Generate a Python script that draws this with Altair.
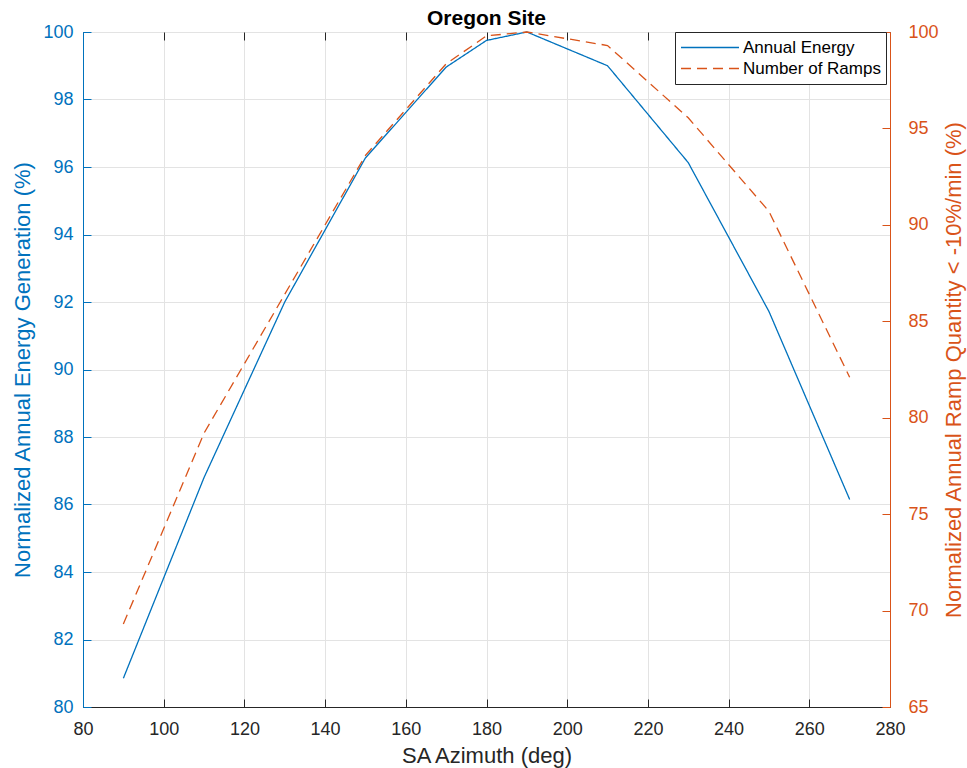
import altair as alt
import pandas as pd

# ---- data ----
azimuth = [90, 110, 130, 150, 170, 180, 190, 210, 230, 250, 270]
energy = [80.85, 86.8, 92.0, 96.27, 98.96, 99.75, 100.0, 99.0, 96.13, 91.72, 86.15]
ramps = [69.3, 79.2, 86.4, 93.6, 98.35, 99.8, 100.0, 99.3, 95.55, 90.7, 82.1]
series_names = ["Annual Energy", "Number of Ramps"]
x_ticks = [80, 100, 120, 140, 160, 180, 200, 220, 240, 260, 280]
left_ticks = [80, 82, 84, 86, 88, 90, 92, 94, 96, 98, 100]
right_ticks = [65, 70, 75, 80, 85, 90, 95, 100]

df = pd.DataFrame({
    "azimuth": azimuth + azimuth,
    "value": energy + ramps,
    "series": [series_names[0]] * len(azimuth) + [series_names[1]] * len(azimuth),
})

BLUE = "#0072BD"
ORANGE = "#D95319"
DARK = "#262626"
GRID = "#e3e3e3"
FONT = "Liberation Sans"
TICK_LEN = 8

x_scale = alt.Scale(domain=[80, 280], nice=False, zero=False)
left_scale = alt.Scale(domain=[80, 100], nice=False, zero=False)
right_scale = alt.Scale(domain=[65, 100], nice=False, zero=False)

legend = alt.Legend(
    title=None, orient="none", legendX=592, legendY=0,
    symbolType="stroke", symbolSize=3364, symbolStrokeWidth=1.3,
    labelFontSize=17, labelColor="#000000", labelFont=FONT,
    fillColor="white", strokeColor=DARK, padding=5, rowPadding=0,
    clipHeight=21, labelOffset=3,
)
color_enc = alt.Color(
    "series:N",
    scale=alt.Scale(domain=series_names, range=[BLUE, ORANGE]),
    legend=legend,
)
dash_enc = alt.StrokeDash(
    "series:N",
    scale=alt.Scale(domain=series_names, range=[[1, 0], [10, 6]]),
    legend=legend,
)

base = alt.Chart(df)
energy_data = base.transform_filter(alt.datum.series == series_names[0])
ramp_data = base.transform_filter(alt.datum.series == series_names[1])


def tick_axis(orient, values, color):
    """Labelless axis shifted inward so its ticks point into the plot."""
    return alt.Axis(
        orient=orient, values=values, labels=False, domain=False, grid=False,
        ticks=True, tickSize=TICK_LEN, tickColor=color, tickWidth=1,
        offset=-TICK_LEN, title=None,
    )


left = energy_data.mark_line(strokeWidth=1.3).encode(
    x=alt.X(
        "azimuth:Q", scale=x_scale,
        axis=alt.Axis(
            orient="bottom", values=x_ticks, title="SA Azimuth (deg)", grid=True,
            gridColor=GRID, domainColor=DARK, labelColor=DARK, titleColor=DARK,
            ticks=False, labelPadding=13, titlePadding=7, labelFontSize=18,
            titleFontSize=22, titleFontWeight="normal", labelFlush=False,
        ),
    ),
    y=alt.Y(
        "value:Q", scale=left_scale,
        axis=alt.Axis(
            orient="left", values=left_ticks,
            title="Normalized Annual Energy Generation (%)",
            grid=True, gridColor=GRID, domainColor=BLUE, labelColor=BLUE,
            titleColor=BLUE, ticks=False, labelPadding=10, titlePadding=8,
            labelFontSize=18, titleFontSize=22, titleFontWeight="normal",
            labelFlush=False,
        ),
    ),
    color=color_enc,
    strokeDash=dash_enc,
)

right = ramp_data.mark_line(strokeWidth=1.3).encode(
    x=alt.X("azimuth:Q", scale=x_scale, axis=None),
    y=alt.Y(
        "value:Q", scale=right_scale,
        axis=alt.Axis(
            orient="right", values=right_ticks,
            title="Normalized Annual Ramp Quantity < -10%/min (%)",
            grid=False, domainColor=ORANGE, labelColor=ORANGE, titleColor=ORANGE,
            ticks=False, labelPadding=18, titlePadding=5, labelFontSize=18,
            titleFontSize=22, titleFontWeight="normal", titleAngle=270,
            titleBaseline="top", labelFlush=False,
        ),
    ),
    color=color_enc,
    strokeDash=dash_enc,
)

ticks_bl = energy_data.mark_line(opacity=0).encode(
    x=alt.X("azimuth:Q", scale=x_scale, axis=tick_axis("bottom", x_ticks, DARK)),
    y=alt.Y("value:Q", scale=left_scale, axis=tick_axis("left", left_ticks, BLUE)),
)

ticks_tr = ramp_data.mark_line(opacity=0).encode(
    x=alt.X("azimuth:Q", scale=x_scale, axis=tick_axis("top", x_ticks, DARK)),
    y=alt.Y("value:Q", scale=right_scale, axis=tick_axis("right", right_ticks, ORANGE)),
)

chart = alt.layer(ticks_bl, ticks_tr, left, right).resolve_scale(
    y="independent"
).resolve_axis(
    x="independent", y="independent"
).properties(
    width=807,
    height=675,
    title=alt.TitleParams("Oregon Site", fontSize=21, fontWeight="bold", font=FONT,
                          color="#000000", offset=3, dy=9, anchor="middle"),
    autosize=alt.AutoSizeParams(type="none"),
    padding={"left": 83, "top": 32, "right": 77, "bottom": 61},
    background="white",
).configure_view(
    stroke=DARK, strokeWidth=1
).configure_axis(
    labelFont=FONT, titleFont=FONT, domainWidth=1
)

chart.save("out.html", embed_options={"renderer": "svg", "actions": False})
